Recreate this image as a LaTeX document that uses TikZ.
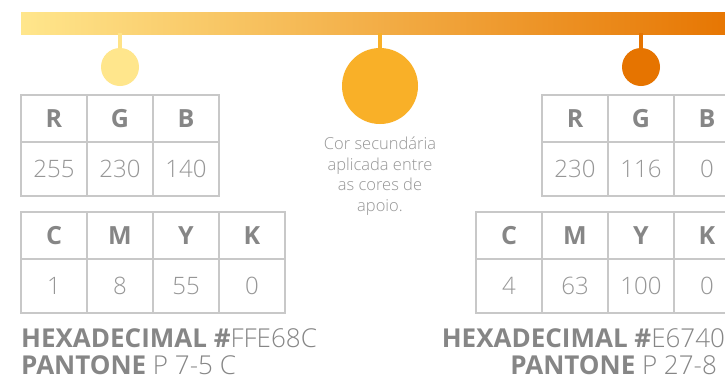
\documentclass[tikz,border=0pt]{standalone}
\usepackage{fontspec}
\setmainfont{Open Sans}
\IfFontExistsTF{Open Sans Light}{\newfontfamily\thinfont{Open Sans Light}}{\newfontfamily\thinfont{Open Sans}}

\definecolor{amarelo}{RGB}{255,230,140}
\definecolor{laranja}{RGB}{249,176,40}
\definecolor{escuro}{RGB}{230,116,0}
\definecolor{texto}{RGB}{134,134,134}
\definecolor{claro}{RGB}{150,150,150}
\definecolor{linha}{RGB}{200,200,200}

\tikzset{
    head/.style={font=\bfseries\fontsize{25}{25}\selectfont, text=texto, inner sep=0},
    val/.style={font=\thinfont\fontsize{24}{24}\selectfont, text=claro, inner sep=0},
    grade/.style={draw=linha, line width=1.6pt},
    haste/.style={line width=4pt},
    bola/.style={circle, inner sep=0, minimum size=#1},
    rodape/.style={font=\fontsize{26}{28}\selectfont, text=texto, inner sep=0},
}

\begin{document}
\begin{tikzpicture}[x=1pt, y=-1pt]
    \clip (0, 0) rectangle (725, 381);
    \fill [white] (0, 0) rectangle (725, 381);

    % barra
    \shade [left color=amarelo, middle color=laranja, right color=escuro] (21, 12) rectangle (740, 34);
    \coordinate (b1) at (120, 33);
    \coordinate (b2) at (380, 33);
    \coordinate (b3) at (641, 33);

    % bolas
    \node [bola=38pt, fill=amarelo] (c1) at (120, 67) {};
    \node [bola=76pt, fill=laranja] (c2) at (380, 86) {};
    \node [bola=38pt, fill=escuro] (c3) at (641, 67) {};
    \draw [haste, amarelo!95!laranja] (b1) -- (c1.north);
    \draw [haste, laranja] (b2) -- (c2.north);
    \draw [haste, escuro] (b3) -- (c3.north);

    \node [anchor=north, align=center, inner sep=0, text=claro,
           font=\thinfont\fontsize{16.5}{20.5}\selectfont] (nota) at (380, 137)
        {Cor secundária\\aplicada entre\\as cores de\\apoio.};

    % tabelas esquerda
    \draw [grade] (21, 95) rectangle (219, 196);
    \draw [grade] (21, 142) -- (219, 142);
    \draw [grade] (87, 95) -- (87, 196);
    \draw [grade] (153, 95) -- (153, 196);

    \draw [grade] (21, 212) rectangle (285, 313);
    \draw [grade] (21, 259) -- (285, 259);
    \draw [grade] (87, 212) -- (87, 313);
    \draw [grade] (153, 212) -- (153, 313);
    \draw [grade] (219, 212) -- (219, 313);

    \node [head] (r1) at (54, 118.5) {R};
    \node [head] (g1) at (120, 118.5) {G};
    \node [head] (b1) at (186, 118.5) {B};
    \node [val] (rv1) at (54, 169) {255};
    \node [val] (gv1) at (120, 169) {230};
    \node [val] (bv1) at (186, 169) {140};

    \node [head] (c1) at (54, 235.5) {C};
    \node [head] (m1) at (120, 235.5) {M};
    \node [head] (y1) at (186, 235.5) {Y};
    \node [head] (k1) at (252, 235.5) {K};
    \node [val] (cv1) at (54, 286) {1};
    \node [val] (mv1) at (120, 286) {8};
    \node [val] (yv1) at (186, 286) {55};
    \node [val] (kv1) at (252, 286) {0};

    \node [rodape, anchor=base west] (hex1) at (21, 347) {\textbf{HEXADECIMAL \#}{\thinfont FFE68C}};
    \node [rodape, anchor=base west] (pan1) at (21, 374) {\textbf{PANTONE} {\thinfont P 7-5 C}};

    % tabelas direita
    \draw [grade] (542, 95) rectangle (740, 196);
    \draw [grade] (542, 142) -- (740, 142);
    \draw [grade] (608, 95) -- (608, 196);
    \draw [grade] (674, 95) -- (674, 196);

    \draw [grade] (476, 212) rectangle (740, 313);
    \draw [grade] (476, 259) -- (740, 259);
    \draw [grade] (542, 212) -- (542, 313);
    \draw [grade] (608, 212) -- (608, 313);
    \draw [grade] (674, 212) -- (674, 313);

    \node [head] (r2) at (575, 118.5) {R};
    \node [head] (g2) at (641, 118.5) {G};
    \node [head] (b2) at (707, 118.5) {B};
    \node [val] (rv2) at (575, 169) {230};
    \node [val] (gv2) at (641, 169) {116};
    \node [val] (bv2) at (707, 169) {0};

    \node [head] (c2) at (509, 235.5) {C};
    \node [head] (m2) at (575, 235.5) {M};
    \node [head] (y2) at (641, 235.5) {Y};
    \node [head] (k2) at (707, 235.5) {K};
    \node [val] (cv2) at (509, 286) {4};
    \node [val] (mv2) at (575, 286) {63};
    \node [val] (yv2) at (641, 286) {100};
    \node [val] (kv2) at (707, 286) {0};

    \node [rodape, anchor=base east] (hex2) at (740, 347) {\textbf{HEXADECIMAL \#}{\thinfont E67400}};
    \node [rodape, anchor=base east] (pan2) at (740, 374) {\textbf{PANTONE} {\thinfont P 27-8 C}};
\end{tikzpicture}
\end{document}
